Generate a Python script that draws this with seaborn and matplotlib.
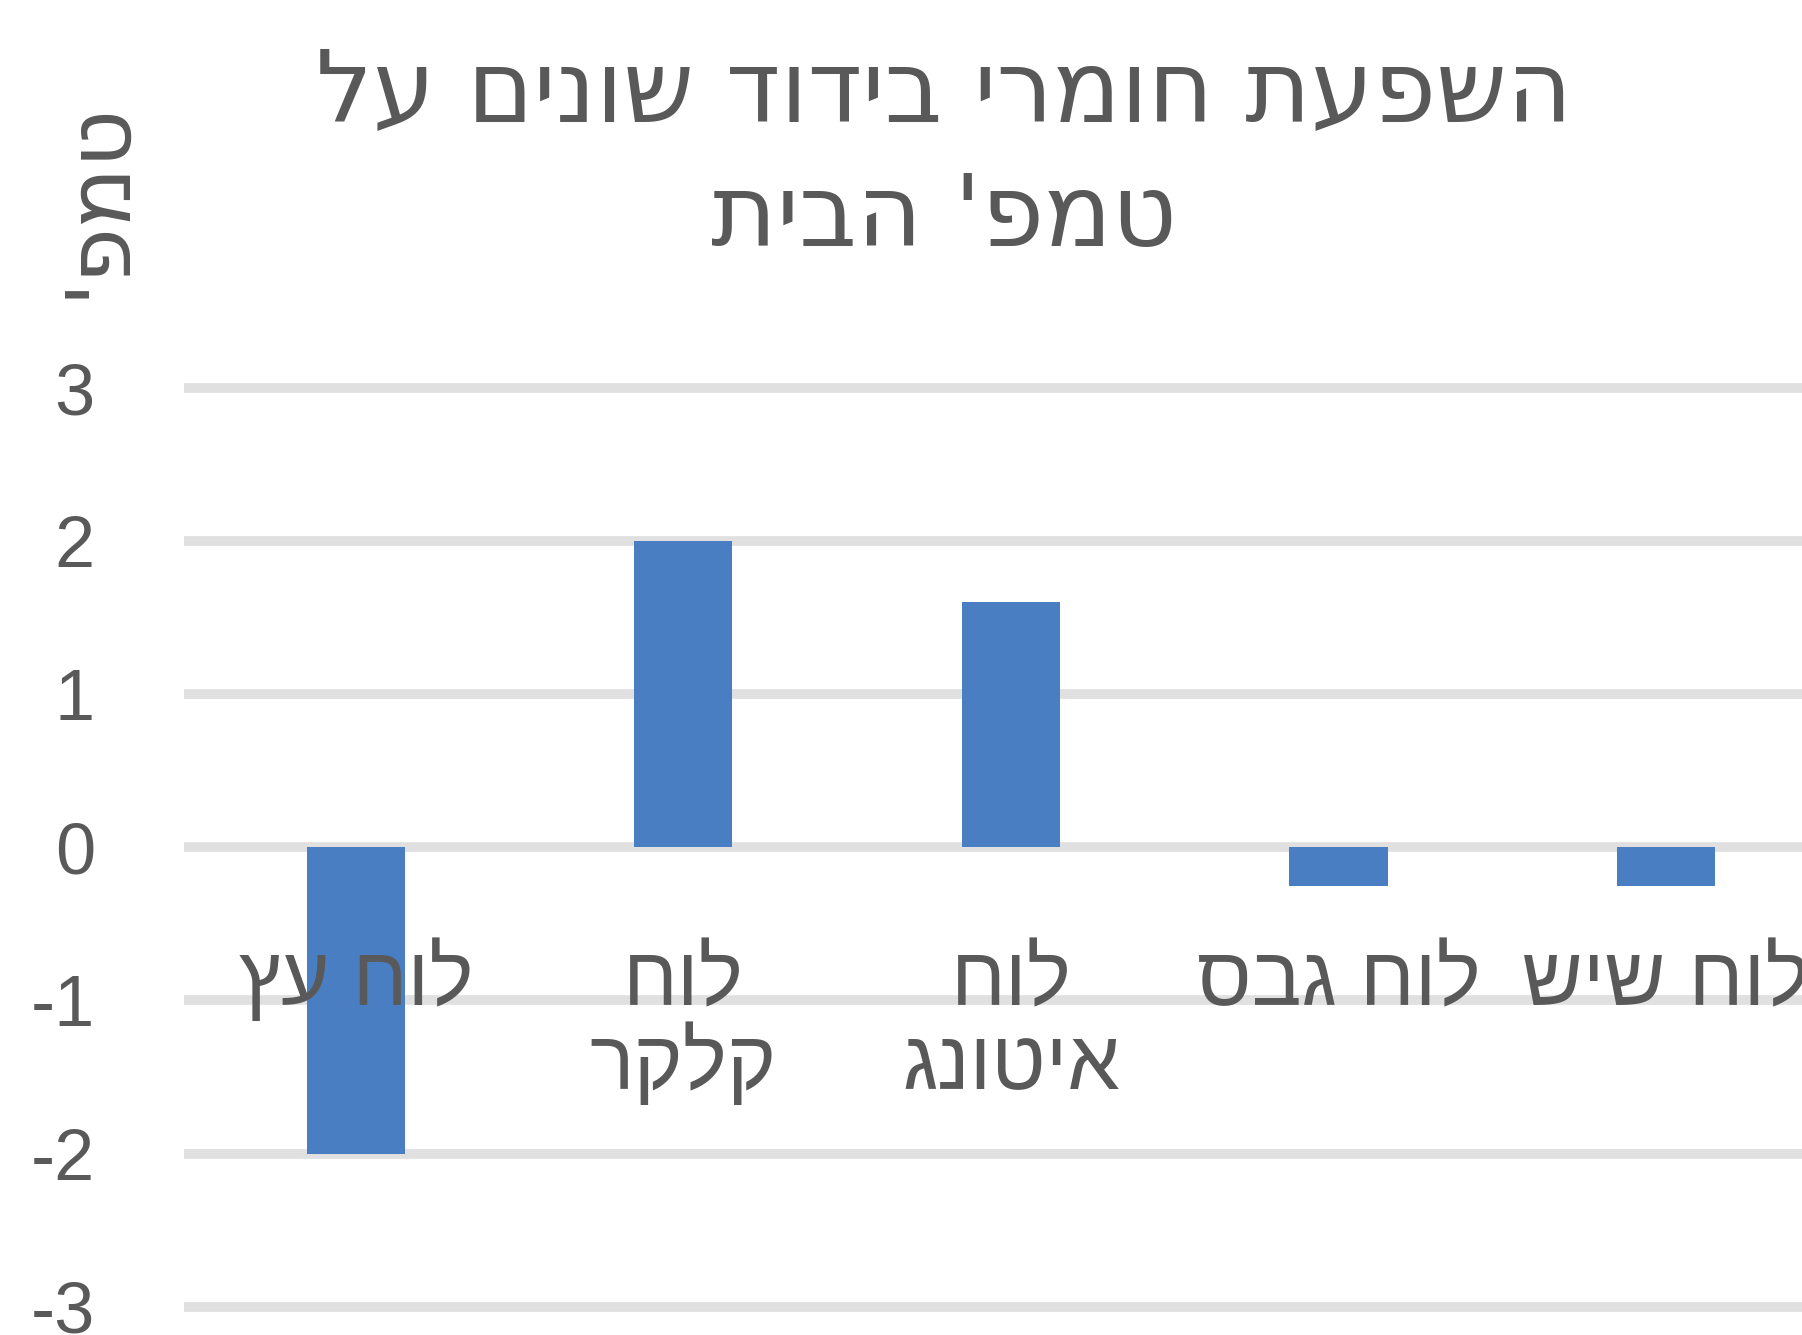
import matplotlib
matplotlib.use("Agg")
import matplotlib.pyplot as plt
import seaborn as sns
import pandas as pd

# chart data
title_lines = ["השפעת חומרי בידוד שונים על", "טמפ' הבית"]
y_label = "טמפ'"
categories = ["לוח עץ", "לוח קלקר", "לוח איטונג", "לוח גבס", "לוח שיש"]
# how excel wrapped the category labels
label_lines = [["לוח עץ"], ["לוח", "קלקר"], ["לוח", "איטונג"], ["לוח גבס"], ["לוח שיש"]]
values = [-2, 2, 1.6, -0.25, -0.25]
y_ticks = [-3, -2, -1, 0, 1, 2, 3]

BAR_COLOR = "#4A7EC2"
GRID_COLOR = "#E0E0E0"
TEXT_COLOR = "#595959"


def rtl(s):
    # matplotlib has no bidi support, flip hebrew to visual order
    return s[::-1]


sns.set_theme(style="white")
plt.rcParams["font.family"] = ["Liberation Sans", "DejaVu Sans"]
plt.rcParams["axes.unicode_minus"] = False

df = pd.DataFrame({"material": categories, "temp": values})

fig = plt.figure(figsize=(18.02, 13.35), dpi=100)
fig.patch.set_facecolor("white")
ax = fig.add_axes([0.102, 0.0155, 0.898, 0.6995])

sns.barplot(data=df, x="material", y="temp", order=categories, color=BAR_COLOR,
            saturation=1, width=0.3, linewidth=0, ax=ax, zorder=2)

ax.set_xlim(-0.525, 4.415)
ax.set_ylim(-3.05, 3.05)
ax.set_yticks(y_ticks)
ax.set_yticklabels([str(t) for t in y_ticks])
ax.yaxis.grid(True, color=GRID_COLOR, linewidth=7)
ax.xaxis.grid(False)
ax.set_axisbelow(True)
ax.tick_params(axis="y", length=0, pad=64, labelsize=52, labelcolor=TEXT_COLOR)
ax.tick_params(axis="x", length=0, labelbottom=False)
ax.set_xlabel("")
ax.set_ylabel("")
for sp in ax.spines.values():
    sp.set_visible(False)

# category labels sit just under the zero line, like excel does
line_y = [-1.03, -1.58]
for i, lines in enumerate(label_lines):
    for j, l in enumerate(lines):
        ax.text(i, line_y[j], rtl(l), ha="center", va="baseline", fontsize=60,
                color=TEXT_COLOR, zorder=5, clip_on=False)

title_y = [0.909, 0.8165]
for j, l in enumerate(title_lines):
    fig.text(0.524, title_y[j], rtl(l), ha="center", va="baseline",
             fontsize=72, color=TEXT_COLOR, family="DejaVu Sans")

fig.text(0.054, 0.851, rtl(y_label), rotation=90, ha="center", va="center",
         fontsize=64, color=TEXT_COLOR, family="DejaVu Sans")

fig.savefig("out.png", dpi=100, facecolor="white")
